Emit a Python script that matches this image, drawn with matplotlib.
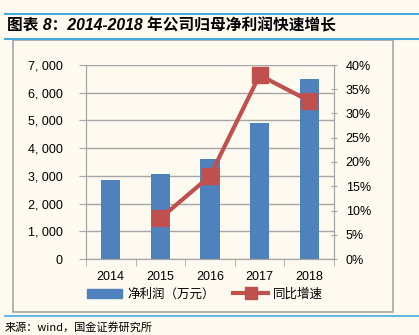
import matplotlib
matplotlib.use('Agg')
import matplotlib.pyplot as plt
from matplotlib.patches import Rectangle
from matplotlib.lines import Line2D
import numpy as np

plt.rcParams['font.family'] = ['Liberation Sans', 'Noto Sans CJK SC', 'DejaVu Sans']

years = ['2014', '2015', '2016', '2017', '2018']
profit = [2850, 3070, 3600, 4910, 6510]          # 净利润（万元）
growth = [None, 8.4, 17.1, 37.9, 32.6]           # 同比增速 %
left_ticks = [0, 1000, 2000, 3000, 4000, 5000, 6000, 7000]
left_labels = ['0', '1, 000', '2, 000', '3, 000', '4, 000', '5, 000', '6, 000', '7, 000']
right_ticks = [0, 5, 10, 15, 20, 25, 30, 35, 40]

bg = '#fefaf0'
blue = '#4f81bd'
red = '#c0504d'
grey = '#a6a6a6'
line_blue = '#45aae0'

W, H = 419, 335
fig = plt.figure(figsize=(W / 100, H / 100), dpi=100, facecolor=bg)

# header / footer lines and chart frame
fig.add_artist(Line2D([5 / W, 1], [1 - 13.5 / H] * 2, color=line_blue, lw=1.5))
fig.add_artist(Line2D([5 / W, 1], [1 - 38.5 / H] * 2, color=line_blue, lw=1.5))
fig.add_artist(Line2D([5 / W, 1], [1 - 316 / H] * 2, color=line_blue, lw=1.2))
fig.add_artist(Rectangle((13 / W, 1 - 312 / H), 380 / W, 272 / H, fill=False,
                         edgecolor=grey, lw=1.2))

fig.text(7 / W, 1 - 26 / H, '图表 8：2014-2018 年公司归母净利润快速增长',
         fontsize=11.3, fontweight='bold', style='italic', va='center', ha='left')
fig.text(5 / W, 1 - 327 / H, '来源：wind，国金证券研究所', fontsize=8,
         family=['Noto Sans CJK SC', 'DejaVu Sans'], weight='light',
         va='center', ha='left')

ax = fig.add_axes([86 / W, 1 - 259 / H, 248 / W, 194 / H])
ax.set_facecolor(bg)
x = np.arange(len(years))
ax.bar(x, profit, width=0.39, color=blue, zorder=2)
ax.set_xlim(-0.5, 4.5)
ax.set_ylim(0, 7000)
ax.set_yticks(left_ticks)
ax.set_yticklabels(left_labels)
ax.set_xticks(x)
ax.set_xticklabels(years)
ax.set_xticks(np.arange(-0.5, 5, 1), minor=True)
ax.tick_params(axis='x', which='major', length=0, pad=9, labelsize=9)
ax.tick_params(axis='x', which='minor', length=5, color=grey, direction='out')
ax.tick_params(axis='y', length=5, color=grey, labelsize=9, pad=12)
ax.grid(axis='y', color=grey, lw=1, zorder=0)
ax.spines['top'].set_visible(False)
for s in ['left', 'bottom', 'right']:
    ax.spines[s].set_color(grey)

ax2 = ax.twinx()
gx = [i for i, g in enumerate(growth) if g is not None]
gy = [g for g in growth if g is not None]
ax2.plot(gx, gy, color=red, lw=3, marker='s', markersize=11, zorder=3)
ax2.set_ylim(0, 40)
ax2.set_yticks(right_ticks)
ax2.set_yticklabels([f'{t}%' for t in right_ticks])
ax2.tick_params(axis='y', length=5, color=grey, direction='inout', labelsize=9, pad=6)
ax2.spines['top'].set_visible(False)
for s in ['left', 'bottom', 'right']:
    ax2.spines[s].set_color(grey)

handles = [Rectangle((0, 0), 1, 1, color=blue),
           Line2D([], [], color=red, lw=3, marker='s', markersize=8)]
fig.legend(handles, ['净利润（万元）', '同比增速'], loc='center',
           bbox_to_anchor=(205 / W, 1 - 294 / H), ncol=2, frameon=False,
           prop={'family': ['Noto Sans CJK SC', 'DejaVu Sans'], 'size': 9,
                 'weight': 'light'},
           handlelength=2.8, handletextpad=0.4, columnspacing=1.5)

fig.savefig('out.png', dpi=100, facecolor=bg)
